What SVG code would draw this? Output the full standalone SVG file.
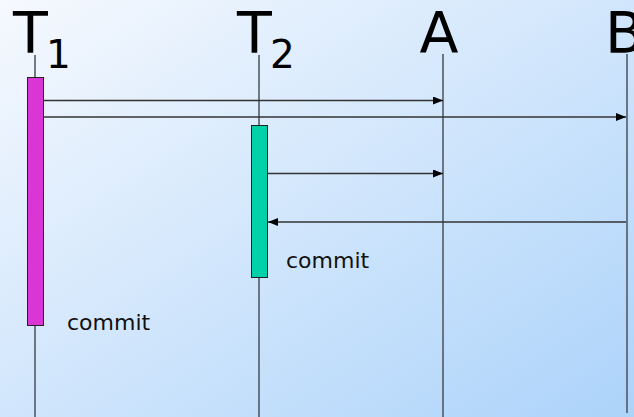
<svg xmlns="http://www.w3.org/2000/svg" width="634" height="417" viewBox="0 0 634 417">
  <defs>
    <linearGradient id="bg" x1="0" y1="0" x2="1" y2="1">
      <stop offset="0" stop-color="#f6f9fe"/>
      <stop offset="1" stop-color="#acd3fa"/>
    </linearGradient>
    <marker id="arrow" viewBox="0 0 10 8" refX="10" refY="4" markerWidth="10" markerHeight="8" markerUnits="userSpaceOnUse" orient="auto">
      <path d="M0,0 L10,4 L0,8 Z" fill="#000"/>
    </marker>
  </defs>
  <style>
    .title { font-family: "DejaVu Sans", "Liberation Sans", sans-serif; font-size: 57px; fill: #000; }
    .sub { font-family: "DejaVu Sans", "Liberation Sans", sans-serif; font-size: 39px; fill: #000; }
    .label { font-family: "DejaVu Sans", "Liberation Sans", sans-serif; font-size: 22px; fill: #111; }
    .life { stroke: #4a525a; stroke-width: 1.5; fill: none; }
    .msg { stroke: #333; stroke-width: 1.3; fill: none; marker-end: url(#arrow); }
    .bar { stroke: #222; stroke-width: 1; }
  </style>

  <rect x="0" y="0" width="634" height="417" fill="url(#bg)"/>

  <!-- lifelines and activation bars -->
  <g id="T1">
    <line class="life" x1="35" y1="55" x2="35" y2="417"/>
    <rect class="bar" x="27.5" y="77.5" width="16" height="248" fill="#d936d5"/>
    <text class="title" x="13" y="53">T</text>
    <text class="sub" x="46" y="68">1</text>
    <text class="label" x="67" y="330">commit</text>
  </g>

  <g id="T2">
    <line class="life" x1="259" y1="55" x2="259" y2="417"/>
    <rect class="bar" x="251.5" y="125.5" width="16" height="152" fill="#00d1a8"/>
    <text class="title" x="237" y="53">T</text>
    <text class="sub" x="270" y="68">2</text>
    <text class="label" x="286" y="268">commit</text>
  </g>

  <g id="A">
    <line class="life" x1="443" y1="54" x2="443" y2="417" stroke="#1a1a1a" stroke-width="1.2"/>
    <text class="title" x="439" y="53" text-anchor="middle">A</text>
  </g>

  <g id="B">
    <line class="life" x1="627" y1="54" x2="627" y2="413" stroke="#3c4a58" stroke-width="2"/>
    <text class="title" x="605" y="53">B</text>
  </g>

  <!-- messages -->
  <g id="connectors">
    <line class="msg" x1="43" y1="100.5" x2="443" y2="100.5"/>
    <line class="msg" x1="43" y1="117" x2="626" y2="117"/>
    <line class="msg" x1="267" y1="173.5" x2="443" y2="173.5"/>
    <line class="msg" x1="626" y1="222" x2="268" y2="222"/>
  </g>
</svg>
